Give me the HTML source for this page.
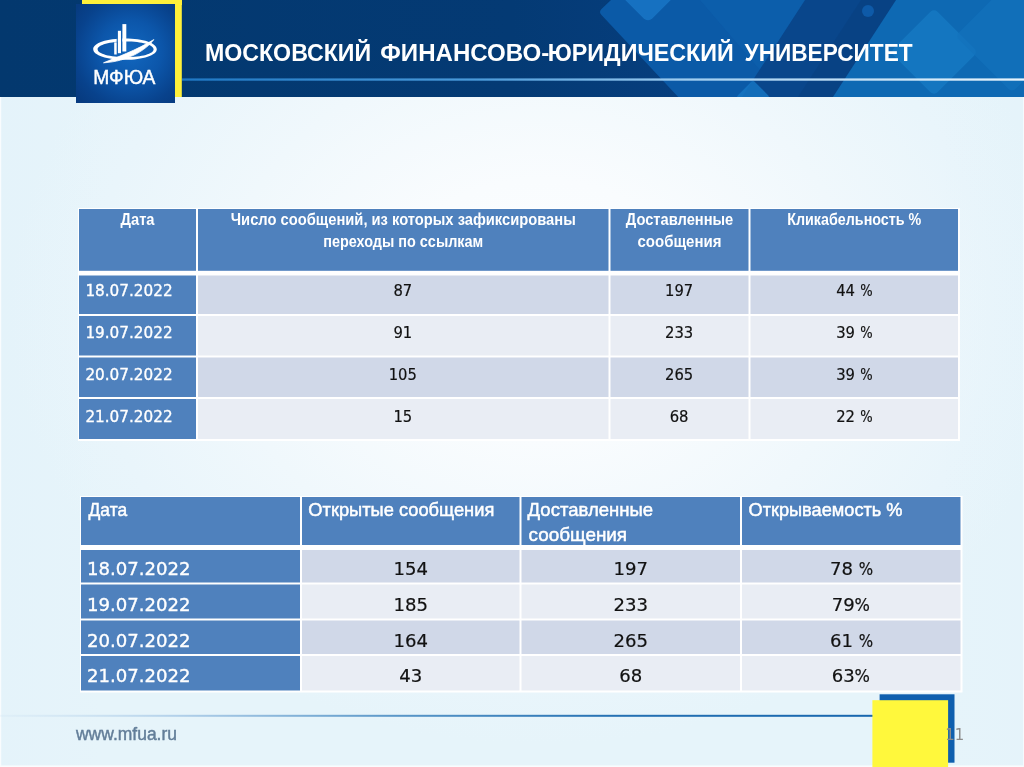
<!DOCTYPE html>
<html lang="ru"><head><meta charset="utf-8"><title>МФЮА</title>
<style>html,body{margin:0;padding:0;background:#e7f4fa;overflow:hidden}svg{display:block}text{font-family:"Liberation Sans",sans-serif}.n{font-family:"DejaVu Sans","Liberation Sans",sans-serif}</style></head><body>
<svg width="1024" height="767" viewBox="0 0 1024 767">
<defs>
<radialGradient id="bgx" gradientUnits="userSpaceOnUse" cx="540" cy="310" r="530" gradientTransform="translate(540,310) scale(1,0.82) translate(-540,-310)">
<stop offset="0" stop-color="#fcfeff"/><stop offset="0.3" stop-color="#f9fcfe"/><stop offset="0.6" stop-color="#f0f8fc"/><stop offset="0.85" stop-color="#e9f5fb"/><stop offset="1" stop-color="#e6f4fa"/>
</radialGradient>
<linearGradient id="bgy" x1="0" x2="1" y1="0" y2="0">
<stop offset="0" stop-color="#dff0fa" stop-opacity="0.25"/><stop offset="0.1" stop-color="#dff0fa" stop-opacity="0"/><stop offset="0.92" stop-color="#dff0fa" stop-opacity="0"/><stop offset="1" stop-color="#dff0fa" stop-opacity="0.15"/>
</linearGradient>
<linearGradient id="hdr" x1="0" x2="1" y1="0" y2="0">
<stop offset="0" stop-color="#03386e"/><stop offset="0.5" stop-color="#043a74"/><stop offset="0.7" stop-color="#073f80"/><stop offset="1" stop-color="#073f80"/>
</linearGradient>
<linearGradient id="hline" x1="0" x2="1" y1="0" y2="0">
<stop offset="0" stop-color="#1f78c4"/><stop offset="0.35" stop-color="#4a9ada"/><stop offset="0.6" stop-color="#9fcdf0"/><stop offset="1" stop-color="#e8f4fc"/>
</linearGradient>
<linearGradient id="fline" x1="0" x2="1" y1="0" y2="0">
<stop offset="0" stop-color="#c9dff0" stop-opacity="0.2"/><stop offset="0.2" stop-color="#b3d1ea"/><stop offset="0.45" stop-color="#5a97c8"/><stop offset="0.7" stop-color="#2571b3"/><stop offset="1" stop-color="#1766ae"/>
</linearGradient>
<radialGradient id="logo" cx="0.55" cy="0.48" r="0.7">
<stop offset="0" stop-color="#1268c0"/><stop offset="0.45" stop-color="#0c56aa"/><stop offset="0.8" stop-color="#08428c"/><stop offset="1" stop-color="#073b80"/>
</radialGradient>
<clipPath id="hclip"><rect x="0" y="0" width="1024" height="97"/></clipPath>
</defs>
<rect width="1024" height="767" fill="url(#bgx)"/>
<rect width="1024" height="767" fill="url(#bgy)"/>
<rect x="0" y="765.4" width="1024" height="1.6" fill="#f9fcfe"/>
<rect x="0" y="97" width="1.2" height="670" fill="#f9fcfe"/>
<rect x="1023" y="97" width="1" height="670" fill="#f4fafd"/>
<rect x="0" y="0" width="1024" height="97" fill="url(#hdr)"/>
<g clip-path="url(#hclip)">
<path d="M601.5,15 Q598.5,12 601.5,9 L611,0 L806,0 L741,100 L681,100 Z" fill="#0b5aa7"/>
<rect x="-26" y="-26" width="52" height="52" rx="6" transform="translate(648,-14) rotate(45)" fill="#1b7aca" opacity="0.75"/>
<polygon points="700,0 806,0 760,70" fill="#0d62b0" opacity="0.5"/>
<polygon points="805,0 896,0 831,100 740,100" fill="#09468b"/>
<polygon points="861,0 896,0 831,100 796,100" fill="#073d7e" opacity="0.5"/>
<circle cx="868" cy="11" r="6" fill="#0e5aa8"/>
<polygon points="896,0 1024,0 1024,100 831,100" fill="#0e69b3"/>
<rect x="-31" y="-31" width="62" height="62" rx="5" transform="translate(934,52) rotate(45)" fill="#1579c2" opacity="0.85"/>
<rect x="-40" y="-40" width="80" height="80" rx="5" transform="translate(1012,36) rotate(45)" fill="#1272bc" opacity="0.7"/>
<rect x="-12" y="-12" width="24" height="24" rx="3" transform="translate(753,97) rotate(45)" fill="#1677c4" opacity="0.8"/>
</g>
<rect x="182" y="78.4" width="842" height="2.3" fill="url(#hline)"/>
<rect x="82" y="0" width="100" height="5" fill="#fff03a"/>
<rect x="175" y="0" width="6.8" height="97" fill="#fff03a"/>
<rect x="76" y="4" width="99" height="99" fill="url(#logo)"/>
<path fill="#fff" fill-rule="evenodd" d="M93.2,49.2 C93.2,43.2 107,38.6 125,38.6 C143,38.6 156.8,43.2 156.8,49.2 C156.8,55.2 143,59.8 125,59.8 C107,59.8 93.2,55.2 93.2,49.2 Z M97.6,49.3 C97.6,53.8 110,57.2 126,57.2 C142,57.2 153.6,53.8 153.6,49.3 C153.6,44.8 142,41.4 126,41.4 C110,41.4 97.6,44.8 97.6,49.3 Z"/>
<path d="M103.5,62.8 C115,58 137,50 153.8,39.6 C146,50 128,61.5 103.5,62.8 Z" fill="#fff" stroke="#fff" stroke-width="0.8" stroke-linejoin="round"/>
<rect x="116.7" y="38" width="1.2" height="15.5" fill="#0f5fb4"/><rect x="121" y="38" width="1.4" height="14.5" fill="#0f5fb4"/>
<rect x="114.2" y="42.3" width="2.5" height="12.2" fill="#fff"/><rect x="117.9" y="30.8" width="3.1" height="22.4" fill="#fff"/><rect x="122.4" y="24.1" width="3.9" height="27.4" fill="#fff"/>
<text x="93.3" y="83.9" font-size="19.8" fill="#fff" stroke="#fff" stroke-width="0.45" textLength="62" lengthAdjust="spacingAndGlyphs">МФЮА</text>
<text x="204.9" y="60.5" font-size="23.5" font-weight="bold" fill="#fff" textLength="166.3" lengthAdjust="spacingAndGlyphs">МОСКОВСКИЙ</text>
<text x="380.3" y="60.5" font-size="23.5" font-weight="bold" fill="#fff" textLength="169" lengthAdjust="spacingAndGlyphs">ФИНАНСОВО-</text>
<text x="547.8" y="60.5" font-size="23.5" font-weight="bold" fill="#fff" textLength="186" lengthAdjust="spacingAndGlyphs">ЮРИДИЧЕСКИЙ</text>
<text x="744.6" y="60.5" font-size="23.5" font-weight="bold" fill="#fff" textLength="168" lengthAdjust="spacingAndGlyphs">УНИВЕРСИТЕТ</text>
<rect x="78" y="208" width="882" height="233" fill="#fff"/>
<rect x="79" y="209" width="117" height="61.80000000000001" fill="#4f81bd"/>
<rect x="198" y="209" width="410.5" height="61.80000000000001" fill="#4f81bd"/>
<rect x="610.5" y="209" width="138.0" height="61.80000000000001" fill="#4f81bd"/>
<rect x="750.5" y="209" width="207.5" height="61.80000000000001" fill="#4f81bd"/>
<rect x="79" y="275.5" width="117" height="38.5" fill="#4f81bd"/>
<rect x="198" y="275.5" width="410.5" height="38.5" fill="#d0d8e8"/>
<rect x="610.5" y="275.5" width="138.0" height="38.5" fill="#d0d8e8"/>
<rect x="750.5" y="275.5" width="207.5" height="38.5" fill="#d0d8e8"/>
<rect x="79" y="316" width="117" height="39.5" fill="#4f81bd"/>
<rect x="198" y="316" width="410.5" height="39.5" fill="#e9edf4"/>
<rect x="610.5" y="316" width="138.0" height="39.5" fill="#e9edf4"/>
<rect x="750.5" y="316" width="207.5" height="39.5" fill="#e9edf4"/>
<rect x="79" y="357.5" width="117" height="39.5" fill="#4f81bd"/>
<rect x="198" y="357.5" width="410.5" height="39.5" fill="#d0d8e8"/>
<rect x="610.5" y="357.5" width="138.0" height="39.5" fill="#d0d8e8"/>
<rect x="750.5" y="357.5" width="207.5" height="39.5" fill="#d0d8e8"/>
<rect x="79" y="399" width="117" height="40" fill="#4f81bd"/>
<rect x="198" y="399" width="410.5" height="40" fill="#e9edf4"/>
<rect x="610.5" y="399" width="138.0" height="40" fill="#e9edf4"/>
<rect x="750.5" y="399" width="207.5" height="40" fill="#e9edf4"/>
<text x="137.5" y="225.3" font-size="16" fill="#fff" text-anchor="middle" font-weight="bold" textLength="34" lengthAdjust="spacingAndGlyphs">Дата</text>
<text x="403.25" y="225.3" font-size="16" fill="#fff" text-anchor="middle" font-weight="bold" textLength="345" lengthAdjust="spacingAndGlyphs">Число сообщений, из которых зафиксированы</text>
<text x="403.25" y="247.3" font-size="16" fill="#fff" text-anchor="middle" font-weight="bold" textLength="160" lengthAdjust="spacingAndGlyphs">переходы по ссылкам</text>
<text x="679.5" y="225.3" font-size="16" fill="#fff" text-anchor="middle" font-weight="bold" textLength="107.5" lengthAdjust="spacingAndGlyphs">Доставленные</text>
<text x="679.5" y="247.3" font-size="16" fill="#fff" text-anchor="middle" font-weight="bold" textLength="84" lengthAdjust="spacingAndGlyphs">сообщения</text>
<text x="854.25" y="225.3" font-size="16" fill="#fff" text-anchor="middle" font-weight="bold" textLength="134" lengthAdjust="spacingAndGlyphs">Кликабельность %</text>
<text x="85.4" y="296.1" font-size="16" fill="#fff" class="n" textLength="87.2" lengthAdjust="spacingAndGlyphs" stroke="#fff" stroke-width="0.35">18.07.2022</text>
<text x="402.8" y="296.1" font-size="16" fill="#111" class="n" text-anchor="middle" textLength="18.8" lengthAdjust="spacingAndGlyphs" stroke="#111" stroke-width="0.2">87</text>
<text x="679.1" y="296.1" font-size="16" fill="#111" class="n" text-anchor="middle" textLength="28.2" lengthAdjust="spacingAndGlyphs" stroke="#111" stroke-width="0.2">197</text>
<text x="836.2" y="296.1" font-size="16" fill="#111" class="n" textLength="18.8" lengthAdjust="spacingAndGlyphs" stroke="#111" stroke-width="0.2">44</text>
<text x="860.2" y="296.1" font-size="16" fill="#111" class="n" textLength="12.4" lengthAdjust="spacingAndGlyphs" stroke="#111" stroke-width="0.2">%</text>
<text x="85.4" y="338.0" font-size="16" fill="#fff" class="n" textLength="87.2" lengthAdjust="spacingAndGlyphs" stroke="#fff" stroke-width="0.35">19.07.2022</text>
<text x="402.8" y="338.0" font-size="16" fill="#111" class="n" text-anchor="middle" textLength="18.8" lengthAdjust="spacingAndGlyphs" stroke="#111" stroke-width="0.2">91</text>
<text x="679.1" y="338.0" font-size="16" fill="#111" class="n" text-anchor="middle" textLength="28.2" lengthAdjust="spacingAndGlyphs" stroke="#111" stroke-width="0.2">233</text>
<text x="836.2" y="338.0" font-size="16" fill="#111" class="n" textLength="18.8" lengthAdjust="spacingAndGlyphs" stroke="#111" stroke-width="0.2">39</text>
<text x="860.2" y="338.0" font-size="16" fill="#111" class="n" textLength="12.4" lengthAdjust="spacingAndGlyphs" stroke="#111" stroke-width="0.2">%</text>
<text x="85.4" y="379.8" font-size="16" fill="#fff" class="n" textLength="87.2" lengthAdjust="spacingAndGlyphs" stroke="#fff" stroke-width="0.35">20.07.2022</text>
<text x="402.8" y="379.8" font-size="16" fill="#111" class="n" text-anchor="middle" textLength="28.2" lengthAdjust="spacingAndGlyphs" stroke="#111" stroke-width="0.2">105</text>
<text x="679.1" y="379.8" font-size="16" fill="#111" class="n" text-anchor="middle" textLength="28.2" lengthAdjust="spacingAndGlyphs" stroke="#111" stroke-width="0.2">265</text>
<text x="836.2" y="379.8" font-size="16" fill="#111" class="n" textLength="18.8" lengthAdjust="spacingAndGlyphs" stroke="#111" stroke-width="0.2">39</text>
<text x="860.2" y="379.8" font-size="16" fill="#111" class="n" textLength="12.4" lengthAdjust="spacingAndGlyphs" stroke="#111" stroke-width="0.2">%</text>
<text x="85.4" y="421.6" font-size="16" fill="#fff" class="n" textLength="87.2" lengthAdjust="spacingAndGlyphs" stroke="#fff" stroke-width="0.35">21.07.2022</text>
<text x="402.8" y="421.6" font-size="16" fill="#111" class="n" text-anchor="middle" textLength="18.8" lengthAdjust="spacingAndGlyphs" stroke="#111" stroke-width="0.2">15</text>
<text x="679.1" y="421.6" font-size="16" fill="#111" class="n" text-anchor="middle" textLength="18.8" lengthAdjust="spacingAndGlyphs" stroke="#111" stroke-width="0.2">68</text>
<text x="836.2" y="421.6" font-size="16" fill="#111" class="n" textLength="18.8" lengthAdjust="spacingAndGlyphs" stroke="#111" stroke-width="0.2">22</text>
<text x="860.2" y="421.6" font-size="16" fill="#111" class="n" textLength="12.4" lengthAdjust="spacingAndGlyphs" stroke="#111" stroke-width="0.2">%</text>
<rect x="80" y="496" width="882.5" height="196.5" fill="#fff"/>
<rect x="81" y="497" width="219" height="48" fill="#4f81bd"/>
<rect x="302" y="497" width="217.5" height="48" fill="#4f81bd"/>
<rect x="521.5" y="497" width="218.5" height="48" fill="#4f81bd"/>
<rect x="742" y="497" width="218.5" height="48" fill="#4f81bd"/>
<rect x="81" y="550" width="219" height="32.5" fill="#4f81bd"/>
<rect x="302" y="550" width="217.5" height="32.5" fill="#d0d8e8"/>
<rect x="521.5" y="550" width="218.5" height="32.5" fill="#d0d8e8"/>
<rect x="742" y="550" width="218.5" height="32.5" fill="#d0d8e8"/>
<rect x="81" y="584.5" width="219" height="34.0" fill="#4f81bd"/>
<rect x="302" y="584.5" width="217.5" height="34.0" fill="#e9edf4"/>
<rect x="521.5" y="584.5" width="218.5" height="34.0" fill="#e9edf4"/>
<rect x="742" y="584.5" width="218.5" height="34.0" fill="#e9edf4"/>
<rect x="81" y="620.5" width="219" height="33.5" fill="#4f81bd"/>
<rect x="302" y="620.5" width="217.5" height="33.5" fill="#d0d8e8"/>
<rect x="521.5" y="620.5" width="218.5" height="33.5" fill="#d0d8e8"/>
<rect x="742" y="620.5" width="218.5" height="33.5" fill="#d0d8e8"/>
<rect x="81" y="656" width="219" height="34.5" fill="#4f81bd"/>
<rect x="302" y="656" width="217.5" height="34.5" fill="#e9edf4"/>
<rect x="521.5" y="656" width="218.5" height="34.5" fill="#e9edf4"/>
<rect x="742" y="656" width="218.5" height="34.5" fill="#e9edf4"/>
<clipPath id="t2h"><rect x="81" y="497" width="879" height="48"/></clipPath><g clip-path="url(#t2h)">
<text x="88.6" y="515.6" font-size="19" fill="#fff" textLength="38.5" lengthAdjust="spacingAndGlyphs" stroke="#fff" stroke-width="0.5">Дата</text>
<text x="308.3" y="515.6" font-size="19" fill="#fff" textLength="186" lengthAdjust="spacingAndGlyphs" stroke="#fff" stroke-width="0.5">Открытые сообщения</text>
<text x="527.6" y="515.6" font-size="19" fill="#fff" textLength="125.5" lengthAdjust="spacingAndGlyphs" stroke="#fff" stroke-width="0.5">Доставленные</text>
<text x="528.6" y="541.0" font-size="19" fill="#fff" textLength="98.5" lengthAdjust="spacingAndGlyphs" stroke="#fff" stroke-width="0.5">сообщения</text>
<text x="748.5" y="515.6" font-size="19" fill="#fff" textLength="154" lengthAdjust="spacingAndGlyphs" stroke="#fff" stroke-width="0.5">Открываемость %</text>
</g>
<text x="87.0" y="574.8" font-size="18.5" fill="#fff" class="n" textLength="103.6" lengthAdjust="spacingAndGlyphs" stroke="#fff" stroke-width="0.35">18.07.2022</text>
<text x="410.8" y="574.8" font-size="18.5" fill="#111" class="n" text-anchor="middle" textLength="34.5" lengthAdjust="spacingAndGlyphs" stroke="#111" stroke-width="0.2">154</text>
<text x="630.8" y="574.8" font-size="18.5" fill="#111" class="n" text-anchor="middle" textLength="34.5" lengthAdjust="spacingAndGlyphs" stroke="#111" stroke-width="0.2">197</text>
<text x="829.9" y="574.8" font-size="18.5" fill="#111" class="n" textLength="23.0" lengthAdjust="spacingAndGlyphs" stroke="#111" stroke-width="0.2">78</text>
<text x="858.7" y="574.8" font-size="18.5" fill="#111" class="n" textLength="14.4" lengthAdjust="spacingAndGlyphs" stroke="#111" stroke-width="0.2">%</text>
<text x="87.0" y="610.8" font-size="18.5" fill="#fff" class="n" textLength="103.6" lengthAdjust="spacingAndGlyphs" stroke="#fff" stroke-width="0.35">19.07.2022</text>
<text x="410.8" y="610.8" font-size="18.5" fill="#111" class="n" text-anchor="middle" textLength="34.5" lengthAdjust="spacingAndGlyphs" stroke="#111" stroke-width="0.2">185</text>
<text x="630.8" y="610.8" font-size="18.5" fill="#111" class="n" text-anchor="middle" textLength="34.5" lengthAdjust="spacingAndGlyphs" stroke="#111" stroke-width="0.2">233</text>
<text x="831.8" y="610.8" font-size="18.5" fill="#111" class="n" textLength="23.0" lengthAdjust="spacingAndGlyphs" stroke="#111" stroke-width="0.2">79</text>
<text x="854.6" y="610.8" font-size="18.5" fill="#111" class="n" textLength="15.4" lengthAdjust="spacingAndGlyphs" stroke="#111" stroke-width="0.2">%</text>
<text x="87.0" y="646.7" font-size="18.5" fill="#fff" class="n" textLength="103.6" lengthAdjust="spacingAndGlyphs" stroke="#fff" stroke-width="0.35">20.07.2022</text>
<text x="410.8" y="646.7" font-size="18.5" fill="#111" class="n" text-anchor="middle" textLength="34.5" lengthAdjust="spacingAndGlyphs" stroke="#111" stroke-width="0.2">164</text>
<text x="630.8" y="646.7" font-size="18.5" fill="#111" class="n" text-anchor="middle" textLength="34.5" lengthAdjust="spacingAndGlyphs" stroke="#111" stroke-width="0.2">265</text>
<text x="829.9" y="646.7" font-size="18.5" fill="#111" class="n" textLength="23.0" lengthAdjust="spacingAndGlyphs" stroke="#111" stroke-width="0.2">61</text>
<text x="858.7" y="646.7" font-size="18.5" fill="#111" class="n" textLength="14.4" lengthAdjust="spacingAndGlyphs" stroke="#111" stroke-width="0.2">%</text>
<text x="87.0" y="682.4" font-size="18.5" fill="#fff" class="n" textLength="103.6" lengthAdjust="spacingAndGlyphs" stroke="#fff" stroke-width="0.35">21.07.2022</text>
<text x="410.8" y="682.4" font-size="18.5" fill="#111" class="n" text-anchor="middle" textLength="23.0" lengthAdjust="spacingAndGlyphs" stroke="#111" stroke-width="0.2">43</text>
<text x="630.8" y="682.4" font-size="18.5" fill="#111" class="n" text-anchor="middle" textLength="23.0" lengthAdjust="spacingAndGlyphs" stroke="#111" stroke-width="0.2">68</text>
<text x="831.8" y="682.4" font-size="18.5" fill="#111" class="n" textLength="23.0" lengthAdjust="spacingAndGlyphs" stroke="#111" stroke-width="0.2">63</text>
<text x="854.6" y="682.4" font-size="18.5" fill="#111" class="n" textLength="15.4" lengthAdjust="spacingAndGlyphs" stroke="#111" stroke-width="0.2">%</text>
<rect x="0" y="714.8" width="880" height="2" fill="url(#fline)"/>
<rect x="879.6" y="694.3" width="74.9" height="68.4" fill="#0f5fae"/>
<rect x="872.4" y="700.2" width="75.7" height="67" fill="#fff83c"/>
<text x="76" y="739.9" font-size="18" fill="#637e99" textLength="101" lengthAdjust="spacingAndGlyphs" stroke="#637e99" stroke-width="0.45">www.mfua.ru</text>
<text x="945.2" y="739.7" font-size="15" fill="#8c8c8c" class="n" textLength="19" lengthAdjust="spacingAndGlyphs">11</text>
</svg></body></html>
